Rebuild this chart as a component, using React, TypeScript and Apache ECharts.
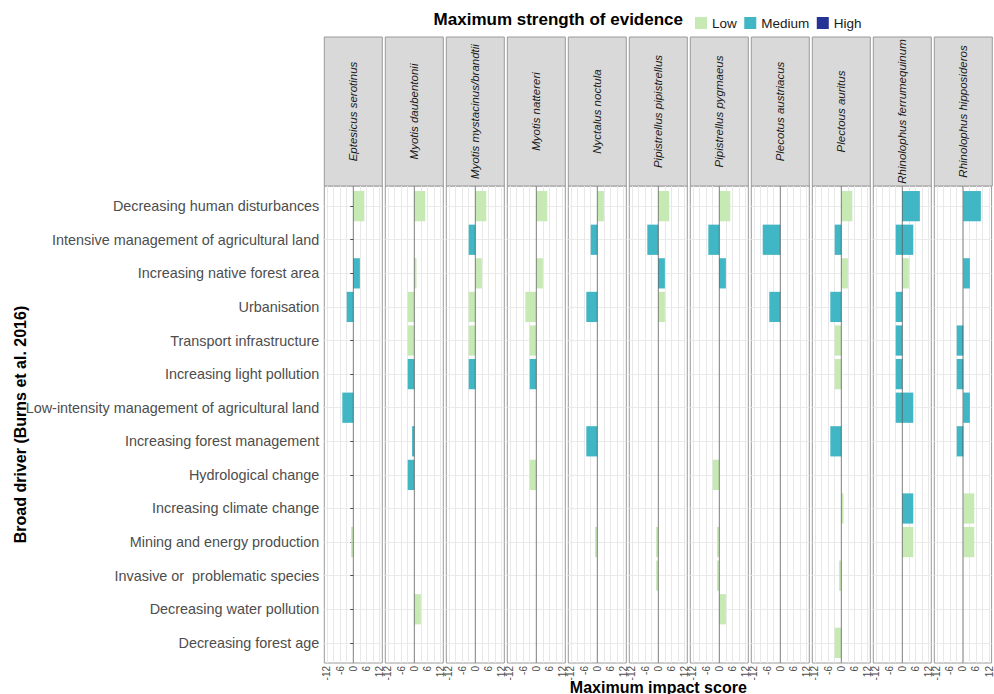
import React, { useEffect, useRef } from "react";
import * as echarts from "echarts";

// ---------- data ----------
const DRIVERS = [
  "Decreasing human disturbances",
  "Intensive management of agricultural land",
  "Increasing native forest area",
  "Urbanisation",
  "Transport infrastructure",
  "Increasing light pollution",
  "Low-intensity management of agricultural land",
  "Increasing forest management",
  "Hydrological change",
  "Increasing climate change",
  "Mining and energy production",
  "Invasive or  problematic species",
  "Decreasing water pollution",
  "Decreasing forest age",
];

const SPECIES_NAMES = [
  "Eptesicus serotinus",
  "Myotis daubentonii",
  "Myotis mystacinus/brandtii",
  "Myotis nattereri",
  "Nyctalus noctula",
  "Pipistrellus pipistrellus",
  "Pipistrellus pygmaeus",
  "Plecotus austriacus",
  "Plectous auritus",
  "Rhinolophus ferrumequinum",
  "Rhinolophus hipposideros",
];

// maximum impact score per driver (same order as DRIVERS), null = no evidence
const EPTESICUS_SEROTINUS = [5, null, 3, -3, null, null, -5, null, null, null, -1, null, null, null];
const MYOTIS_DAUBENTONII = [5, null, 1, -3, -3, -3, null, -1, -3, null, null, null, 3, null];
const MYOTIS_MYSTACINUS = [5, -3, 3, -3, -3, -3, null, null, null, null, null, null, null, null];
const MYOTIS_NATTERERI = [5, null, 3, -5, -3, -3, null, null, -3, null, null, null, null, null];
const NYCTALUS_NOCTULA = [3, -3, null, -5, null, null, null, -5, null, null, -1, null, null, null];
const PIPISTRELLUS_PIPISTRELLUS = [5, -5, 3, 3, null, null, null, null, null, null, -1, -1, null, null];
const PIPISTRELLUS_PYGMAEUS = [5, -5, 3, null, null, null, null, null, -3, null, -1, -1, 3, null];
const PLECOTUS_AUSTRIACUS = [null, -8, null, -5, null, null, null, null, null, null, null, null, null, null];
const PLECTOUS_AURITUS = [5, -3, 3, -5, -3, -3, null, -5, null, 1, null, -1, null, -3];
const RHINOLOPHUS_FERRUMEQUINUM = [8, -3, 3, -3, -3, -3, -3, null, null, 5, 5, null, null, null];
const RHINOLOPHUS_HIPPOSIDEROS = [8, null, 3, null, -3, -3, 3, -3, null, 5, 5, null, null, null];
// second (opposite-sign) score where a driver has both
const RHINOLOPHUS_FERRUMEQUINUM_2 = [null, 5, null, null, null, null, 5, null, null, null, null, null, null, null];

// maximum strength of evidence per driver: L = Low, M = Medium, H = High, - = none
const EV_EPTESICUS_SEROTINUS = "L-MM--M---L---";
const EV_MYOTIS_DAUBENTONII = "L-LLLM-MM---L-";
const EV_MYOTIS_MYSTACINUS = "LMLLLM--------";
const EV_MYOTIS_NATTERERI = "L-LLLM--L-----";
const EV_NYCTALUS_NOCTULA = "LM-M---M--L---";
const EV_PIPISTRELLUS_PIPISTRELLUS = "LMML------LL--";
const EV_PIPISTRELLUS_PYGMAEUS = "LMM-----L-LLL-";
const EV_PLECOTUS_AUSTRIACUS = "-M-M----------";
const EV_PLECTOUS_AURITUS = "LMLMLL-M-L-L-L";
const EV_RHINOLOPHUS_FERRUMEQUINUM = "MMLMMMM--ML---";
const EV_RHINOLOPHUS_HIPPOSIDEROS = "M-M-MMMM-LL---";
const EV_RHINOLOPHUS_FERRUMEQUINUM_2 = "-M----M-------";

const LEVELS = ["Low", "Medium", "High"];
const LEVEL_CODES = ["L", "M", "H"];
const LEVEL_COLORS = ["#c7e9b4", "#41b6c4", "#253494"];

const X_TICKS = [-12, -6, 0, 6, 12];
const X_GRIDLINES = [-12, -9, -6, -3, 0, 3, 6, 9, 12];

const PANELS = [
  { scores: EPTESICUS_SEROTINUS, ev: EV_EPTESICUS_SEROTINUS },
  { scores: MYOTIS_DAUBENTONII, ev: EV_MYOTIS_DAUBENTONII },
  { scores: MYOTIS_MYSTACINUS, ev: EV_MYOTIS_MYSTACINUS },
  { scores: MYOTIS_NATTERERI, ev: EV_MYOTIS_NATTERERI },
  { scores: NYCTALUS_NOCTULA, ev: EV_NYCTALUS_NOCTULA },
  { scores: PIPISTRELLUS_PIPISTRELLUS, ev: EV_PIPISTRELLUS_PIPISTRELLUS },
  { scores: PIPISTRELLUS_PYGMAEUS, ev: EV_PIPISTRELLUS_PYGMAEUS },
  { scores: PLECOTUS_AUSTRIACUS, ev: EV_PLECOTUS_AUSTRIACUS },
  { scores: PLECTOUS_AURITUS, ev: EV_PLECTOUS_AURITUS },
  {
    scores: RHINOLOPHUS_FERRUMEQUINUM,
    ev: EV_RHINOLOPHUS_FERRUMEQUINUM,
    extra: RHINOLOPHUS_FERRUMEQUINUM_2,
    extraEv: EV_RHINOLOPHUS_FERRUMEQUINUM_2,
  },
  { scores: RHINOLOPHUS_HIPPOSIDEROS, ev: EV_RHINOLOPHUS_HIPPOSIDEROS },
];

// ---------- layout ----------
const FONT = "'Liberation Sans', Arial, sans-serif";
const PANEL_LEFT0 = 324.3;
const PANEL_W = 58;
const PANEL_PITCH = 61;
const PANEL_TOP = 186;
const PANEL_H = 477;
const STRIP_TOP = 37;
const X_MIN = -13.2;
const X_MAX = 13.2;
const BAND = PANEL_H / (DRIVERS.length + 0.2);
const BORDER = "#9a9a9a";

function buildOption() {
  const n = PANELS.length;
  const grid: any[] = [];
  const xAxis: any[] = [];
  const yAxis: any[] = [];
  const series: any[] = [];
  const graphic: any[] = [];

  // background grids (borders + gridlines + tick labels)
  for (let i = 0; i < n; i++) {
    const left = PANEL_LEFT0 + i * PANEL_PITCH;
    grid.push({
      left,
      top: PANEL_TOP,
      width: PANEL_W,
      height: PANEL_H,
      show: true,
      backgroundColor: "#ffffff",
      borderColor: BORDER,
      borderWidth: 1,
      containLabel: false,
    });
    xAxis.push({
      type: "value",
      gridIndex: i,
      min: X_MIN,
      max: X_MAX,
      axisLine: { show: false },
      axisTick: { show: false, customValues: X_GRIDLINES },
      splitLine: { show: true, lineStyle: { color: "#e8e8e8", width: 1 } },
      axisLabel: {
        show: true,
        customValues: X_TICKS,
        rotate: 90,
        margin: 3,
        fontSize: 10,
        color: "#4d4d4d",
        fontFamily: FONT,
      },
    });
    yAxis.push({
      type: "value",
      gridIndex: i,
      inverse: true,
      min: -0.6,
      max: DRIVERS.length - 0.4,
      axisLine: { show: false },
      axisTick: { show: false, customValues: DRIVERS.map((_, k) => k) },
      axisLabel: { show: false },
      splitLine: { show: true, lineStyle: { color: "#ebebeb", width: 1 } },
    });
  }

  // bar grids
  for (let i = 0; i < n; i++) {
    const left = PANEL_LEFT0 + i * PANEL_PITCH;
    const gi = n + i;
    grid.push({
      left,
      top: PANEL_TOP + 0.1 * BAND,
      width: PANEL_W,
      height: BAND * DRIVERS.length,
      show: false,
      containLabel: false,
    });
    xAxis.push({
      type: "value",
      gridIndex: gi,
      min: X_MIN,
      max: X_MAX,
      show: false,
      splitLine: { show: false },
    });
    yAxis.push({
      type: "category",
      gridIndex: gi,
      data: DRIVERS,
      inverse: true,
      axisLine: { show: false },
      axisTick: {
        show: i === 0,
        alignWithLabel: true,
        length: 3,
        lineStyle: { color: "#4d4d4d" },
      },
      axisLabel: {
        show: i === 0,
        fontSize: 14.4,
        color: "#4d4d4d",
        margin: 5,
        fontFamily: FONT,
      },
      splitLine: { show: false },
    });

    const p: any = PANELS[i];
    LEVELS.forEach((lvl, li) => {
      series.push({
        type: "bar",
        name: lvl,
        xAxisIndex: gi,
        yAxisIndex: gi,
        stack: "s" + i,
        barWidth: "90%",
        silent: true,
        itemStyle: { color: LEVEL_COLORS[li] },
        data: p.scores.map((v: number | null, k: number) =>
          v !== null && p.ev[k] === LEVEL_CODES[li] ? v : null
        ),
      });
    });
    if (p.extra) {
      LEVELS.forEach((lvl, li) => {
        const d = p.extra.map((v: number | null, k: number) =>
          v !== null && p.extraEv[k] === LEVEL_CODES[li] ? v : null
        );
        if (d.some((v: any) => v !== null)) {
          series.push({
            type: "bar",
            name: lvl,
            xAxisIndex: gi,
            yAxisIndex: gi,
            stack: "s" + i,
            barWidth: "90%",
            silent: true,
            itemStyle: { color: LEVEL_COLORS[li] },
            data: d,
          });
        }
      });
    }
    // zero reference line drawn over the bars
    series.push({
      type: "line",
      xAxisIndex: i,
      yAxisIndex: i,
      z: 10,
      silent: true,
      symbol: "none",
      lineStyle: { color: "rgba(60,60,60,0.6)", width: 1 },
      data: [
        [0, -0.6],
        [0, DRIVERS.length - 0.4],
      ],
    });

    // strip
    graphic.push({
      type: "rect",
      shape: { x: left, y: STRIP_TOP, width: PANEL_W, height: PANEL_TOP - STRIP_TOP },
      style: { fill: "#d9d9d9", stroke: BORDER, lineWidth: 1 },
      silent: true,
    });
    graphic.push({
      type: "text",
      x: left + PANEL_W / 2,
      y: (STRIP_TOP + PANEL_TOP) / 2,
      rotation: Math.PI / 2,
      silent: true,
      style: {
        text: SPECIES_NAMES[i],
        fontSize: 11.5,
        fontStyle: "italic",
        fontFamily: FONT,
        fill: "#1a1a1a",
        align: "center",
        verticalAlign: "middle",
      },
    });
  }

  // titles
  graphic.push({
    type: "text",
    x: 20,
    y: PANEL_TOP + PANEL_H / 2,
    rotation: Math.PI / 2,
    silent: true,
    style: {
      text: "Broad driver (Burns et al. 2016)",
      fontSize: 16,
      fontWeight: "bold",
      fontFamily: FONT,
      fill: "#000000",
      align: "center",
      verticalAlign: "middle",
    },
  });
  graphic.push({
    type: "text",
    x: PANEL_LEFT0 + ((n - 1) * PANEL_PITCH + PANEL_W) / 2,
    y: 687,
    silent: true,
    style: {
      text: "Maximum impact score",
      fontSize: 16,
      fontWeight: "bold",
      fontFamily: FONT,
      fill: "#000000",
      align: "center",
      verticalAlign: "middle",
    },
  });
  graphic.push({
    type: "text",
    x: 683,
    y: 19,
    silent: true,
    style: {
      text: "Maximum strength of evidence",
      fontSize: 17,
      fontWeight: "bold",
      fontFamily: FONT,
      fill: "#000000",
      align: "right",
      verticalAlign: "middle",
    },
  });

  return {
    animation: false,
    backgroundColor: "#ffffff",
    textStyle: { fontFamily: FONT },
    legend: {
      data: LEVELS,
      left: 690,
      top: 11,
      icon: "rect",
      itemWidth: 12,
      itemHeight: 12,
      itemGap: 7.5,
      selectedMode: false,
      textStyle: { fontSize: 13.5, color: "#1a1a1a", fontFamily: FONT },
    },
    grid,
    xAxis,
    yAxis,
    series,
    graphic,
  };
}

export default function App() {
  const ref = useRef<HTMLDivElement>(null);
  useEffect(() => {
    document.body.style.margin = "0";
    if (!ref.current) return;
    const chart = echarts.init(ref.current, null, { renderer: "svg" });
    chart.setOption(buildOption());
    return () => chart.dispose();
  }, []);
  return <div ref={ref} style={{ width: 994, height: 694 }} />;
}
